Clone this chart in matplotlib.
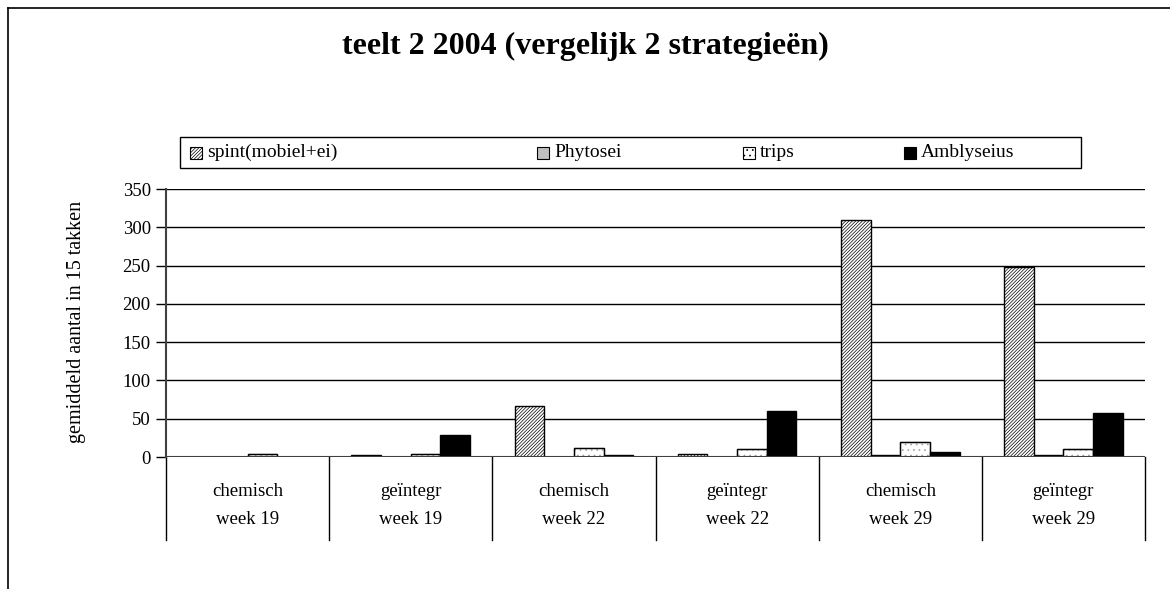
import matplotlib
matplotlib.use("Agg")
import matplotlib.pyplot as plt
from matplotlib.patches import Rectangle
import numpy as np

plt.rcParams['font.family'] = ['Liberation Serif', 'DejaVu Serif']
plt.rcParams['hatch.linewidth'] = 0.5

title = "teelt 2 2004 (vergelijk 2 strategieën)"
ylabel = "gemiddeld aantal in 15 takken"
treatments = ["chemisch", "geïntegr", "chemisch", "geïntegr", "chemisch", "geïntegr"]
weeks = ["week 19", "week 19", "week 22", "week 22", "week 29", "week 29"]
series_names = ["spint(mobiel+ei)", "Phytosei", "trips", "Amblyseius"]
spint = [0, 2, 67, 4, 309, 248]
phytosei = [0, 0, 0, 0, 2, 2]
trips = [4, 4, 12, 10, 19, 10]
amblyseius = [0, 29, 2, 60, 6, 58]
yticks = [0, 50, 100, 150, 200, 250, 300, 350]

W, H = 1170, 589
fig = plt.figure(figsize=(W / 100, H / 100), dpi=100)
fig.patch.set_facecolor("white")

# outer border (top and left visible)
fig.add_artist(plt.Line2D([8 / W, 1], [1 - 8 / H, 1 - 8 / H], color="black", lw=1.2, transform=fig.transFigure))
fig.add_artist(plt.Line2D([8 / W, 8 / W], [0, 1 - 8 / H], color="black", lw=1.2, transform=fig.transFigure))

x0, x1 = 166, 1145
y0, y1 = 457, 189
ax = fig.add_axes([x0 / W, 1 - y0 / H, (x1 - x0) / W, (y0 - y1) / H])

n = len(treatments)
bw = 1 / 5.5
left_pad = 0.75 / 5.5
g = np.arange(n)

styles = [
    dict(facecolor="white", edgecolor="black", hatch="//////////"),
    dict(facecolor="#c0c0c0", edgecolor="black"),
    dict(facecolor="white", edgecolor="#a0a0a0", hatch="..."),
    dict(facecolor="black", edgecolor="black"),
]
data = [spint, phytosei, trips, amblyseius]
for i, (vals, st) in enumerate(zip(data, styles)):
    xs = g + left_pad + (i + 0.5) * bw
    ax.bar(xs, vals, width=bw, linewidth=1.0, zorder=3, label=series_names[i], **st)
    if i == 2:
        ax.bar(xs, vals, width=bw, facecolor="none", edgecolor="black", linewidth=1.0, zorder=4)

ax.set_xlim(0, n)
ax.set_ylim(0, 350)
ax.set_yticks(yticks)
ax.set_yticklabels([str(t) for t in yticks], fontsize=13.5)
ax.tick_params(axis="y", direction="out", length=7, width=1, pad=4)
ax.set_xticks([])
ax.grid(axis="y", color="black", linewidth=1.0, zorder=1)
for s in ["top", "right", "bottom"]:
    ax.spines[s].set_visible(False)
ax.spines["left"].set_color("#404040")
ax.spines["left"].set_linewidth(1.5)
ax.axhline(0, color="#404040", lw=1.5, zorder=5)

# category axis with two label rows and separators
ph = y0 - y1
sep_bottom = -(540 - y0) / ph
trans = ax.get_xaxis_transform()
for k in range(n + 1):
    ax.plot([k, k], [0, sep_bottom], color="black", lw=1.0, transform=trans, clip_on=False)
for k in range(n):
    ax.text(k + 0.5, -(492 - y0) / ph, treatments[k], transform=trans, ha="center", va="center", fontsize=13.5)
    ax.text(k + 0.5, -(520 - y0) / ph, weeks[k], transform=trans, ha="center", va="center", fontsize=13.5)

fig.text(76 / W, 1 - 322 / H, ylabel, rotation=90, ha="center", va="center", fontsize=14.5)
fig.text(585 / W, 1 - 46 / H, title, ha="center", va="center", fontsize=23, fontweight="bold")

# legend box with entries at their positions
lx0, lx1, ly0, ly1 = 180, 1081, 137, 168
fig.add_artist(Rectangle((lx0 / W, 1 - ly1 / H), (lx1 - lx0) / W, (ly1 - ly0) / H,
                         transform=fig.transFigure, facecolor="white", edgecolor="black", lw=1.0))
ycen = (ly0 + ly1) / 2
sq = 12
entry_x = [190, 537, 743, 904]
leg_styles = [
    dict(facecolor="white", edgecolor="black", hatch="//////////"),
    dict(facecolor="#c0c0c0", edgecolor="black"),
    dict(facecolor="white", edgecolor="black", hatch="..."),
    dict(facecolor="black", edgecolor="black"),
]
for ex, name, st in zip(entry_x, series_names, leg_styles):
    fig.add_artist(Rectangle((ex / W, 1 - (ycen + sq / 2) / H), sq / W, sq / H,
                             transform=fig.transFigure, lw=0.8, **st))
    fig.text((ex + sq + 5) / W, 1 - ycen / H, name, ha="left", va="center", fontsize=14)

fig.savefig("out.png", dpi=100, facecolor="white")
